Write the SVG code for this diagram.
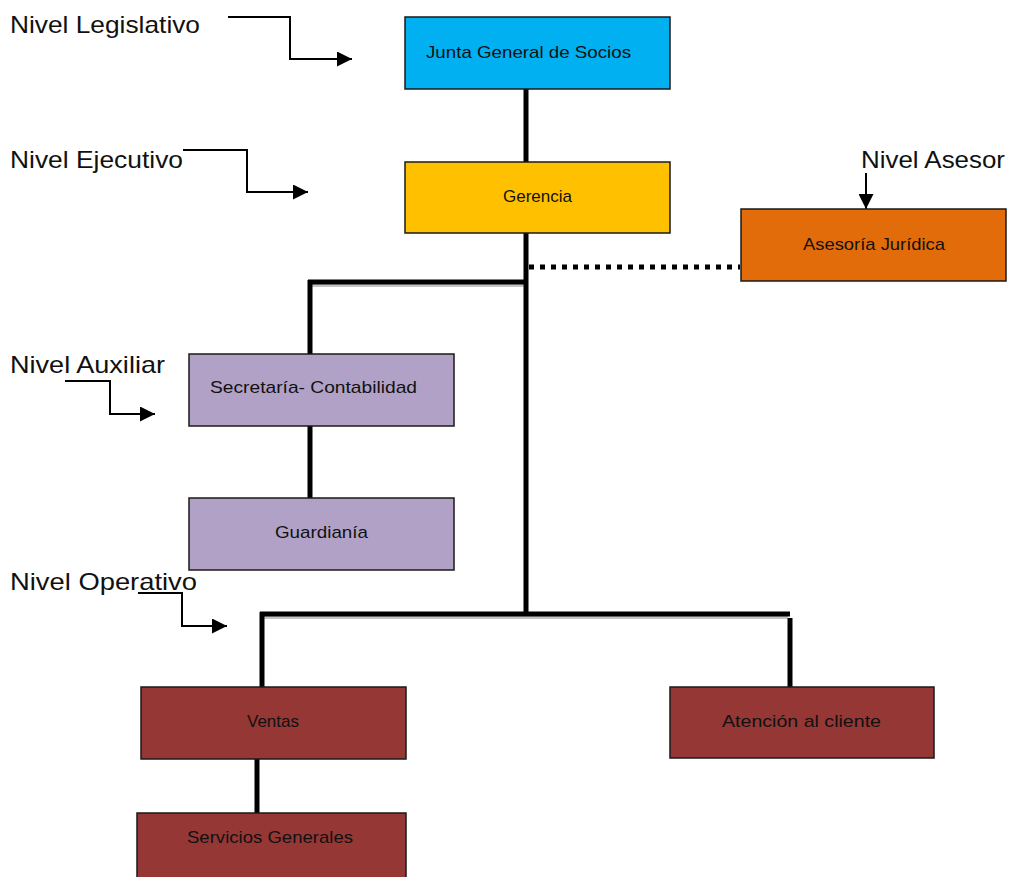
<svg xmlns="http://www.w3.org/2000/svg" width="1009" height="877" viewBox="0 0 1009 877">
  <style>
    .box { stroke: #1a1a1a; stroke-width: 1.5; }
    .lbl { font-family: "Liberation Sans", Arial, sans-serif; font-size: 17px; fill: #111; }
    .lvl { font-family: "Liberation Sans", Arial, sans-serif; font-size: 24px; fill: #111; }
    .conn { stroke: #000; stroke-width: 5; fill: none; }
    .shadow { stroke: #c4c4c4; stroke-width: 3; fill: none; }
    .dot { stroke: #000; stroke-width: 5; stroke-dasharray: 5 6; fill: none; }
    .pointer { stroke: #000; stroke-width: 2; fill: none; }
  </style>
  <defs>
    <marker id="head" viewBox="0 0 10 10" refX="10" refY="5" markerWidth="8" markerHeight="8" markerUnits="userSpaceOnUse" orient="auto">
      <path d="M0,0 L10,5 L0,10 Z" fill="#000"/>
    </marker>
    <marker id="headLg" viewBox="0 0 10 10" refX="10" refY="5" markerWidth="15" markerHeight="15" markerUnits="userSpaceOnUse" orient="auto">
      <path d="M0,0 L10,5 L0,10 Z" fill="#000"/>
    </marker>
  </defs>
  <rect width="1009" height="877" fill="#fff"/>

  <!-- organisational connectors -->
  <g id="connectors">
    <path class="shadow" d="M312,285.5 H524"/>
    <path class="shadow" d="M264,617.5 H788"/>
    <path class="conn" d="M526,89 V162"/>
    <path class="conn" d="M526,233 V614"/>
    <path class="conn" d="M308,282 H526"/>
    <path class="conn" d="M310,280 V354"/>
    <path class="conn" d="M310,426 V498"/>
    <path class="dot" d="M529,267 H740"/>
    <path class="conn" d="M260,614 H790"/>
    <path class="conn" d="M262,612 V688"/>
    <path class="conn" d="M790,618 V688"/>
    <path class="conn" d="M257,757 V813"/>
  </g>

  <!-- level pointers -->
  <g id="level-pointers">
    <path class="pointer" d="M228,17 H290 V59 H352" marker-end="url(#headLg)"/>
    <path class="pointer" d="M183,150 H247 V192 H308" marker-end="url(#headLg)"/>
    <path class="pointer" d="M866,173 V209" marker-end="url(#headLg)"/>
    <path class="pointer" d="M65,381 H110 V414 H155" marker-end="url(#headLg)"/>
    <path class="pointer" d="M138,593 H182 V626 H227" marker-end="url(#headLg)"/>
  </g>

  <!-- level labels -->
  <g id="levels">
    <text class="lvl" x="10" y="33" textLength="190" lengthAdjust="spacingAndGlyphs">Nivel Legislativo</text>
    <text class="lvl" x="10" y="168" textLength="173" lengthAdjust="spacingAndGlyphs">Nivel Ejecutivo</text>
    <text class="lvl" x="861" y="168" textLength="144" lengthAdjust="spacingAndGlyphs">Nivel Asesor</text>
    <text class="lvl" x="10" y="373" textLength="155" lengthAdjust="spacingAndGlyphs">Nivel Auxiliar</text>
    <text class="lvl" x="10" y="590" textLength="187" lengthAdjust="spacingAndGlyphs">Nivel Operativo</text>
  </g>

  <g id="junta">
    <rect class="box" x="405" y="17" width="265" height="72" fill="#00B0F0"/>
    <text class="lbl" x="426" y="58" textLength="205" lengthAdjust="spacingAndGlyphs">Junta General de Socios</text>
  </g>
  <g id="gerencia">
    <rect class="box" x="405" y="162" width="265" height="71" fill="#FFC000"/>
    <text class="lbl" x="537.5" y="202" text-anchor="middle">Gerencia</text>
  </g>
  <g id="asesoria">
    <rect class="box" x="741" y="209" width="265" height="72" fill="#E36C0A"/>
    <text class="lbl" x="874" y="250" text-anchor="middle" textLength="142" lengthAdjust="spacingAndGlyphs">Asesoría Jurídica</text>
  </g>
  <g id="secretaria">
    <rect class="box" x="189" y="354" width="265" height="72" fill="#B2A1C7"/>
    <text class="lbl" x="210" y="393" textLength="207" lengthAdjust="spacingAndGlyphs">Secretaría- Contabilidad</text>
  </g>
  <g id="guardiania">
    <rect class="box" x="189" y="498" width="265" height="72" fill="#B2A1C7"/>
    <text class="lbl" x="321.5" y="538" text-anchor="middle" textLength="93" lengthAdjust="spacingAndGlyphs">Guardianía</text>
  </g>
  <g id="ventas">
    <rect class="box" x="141" y="687" width="265" height="72" fill="#953735"/>
    <text class="lbl" x="273" y="727" text-anchor="middle">Ventas</text>
  </g>
  <g id="atencion">
    <rect class="box" x="670" y="687" width="264" height="71" fill="#953735"/>
    <text class="lbl" x="801.5" y="727" text-anchor="middle" textLength="159" lengthAdjust="spacingAndGlyphs">Atención al cliente</text>
  </g>
  <g id="servicios">
    <rect class="box" x="137" y="813" width="269" height="72" fill="#953735"/>
    <text class="lbl" x="270" y="843" text-anchor="middle" textLength="166" lengthAdjust="spacingAndGlyphs">Servicios Generales</text>
  </g>
</svg>
